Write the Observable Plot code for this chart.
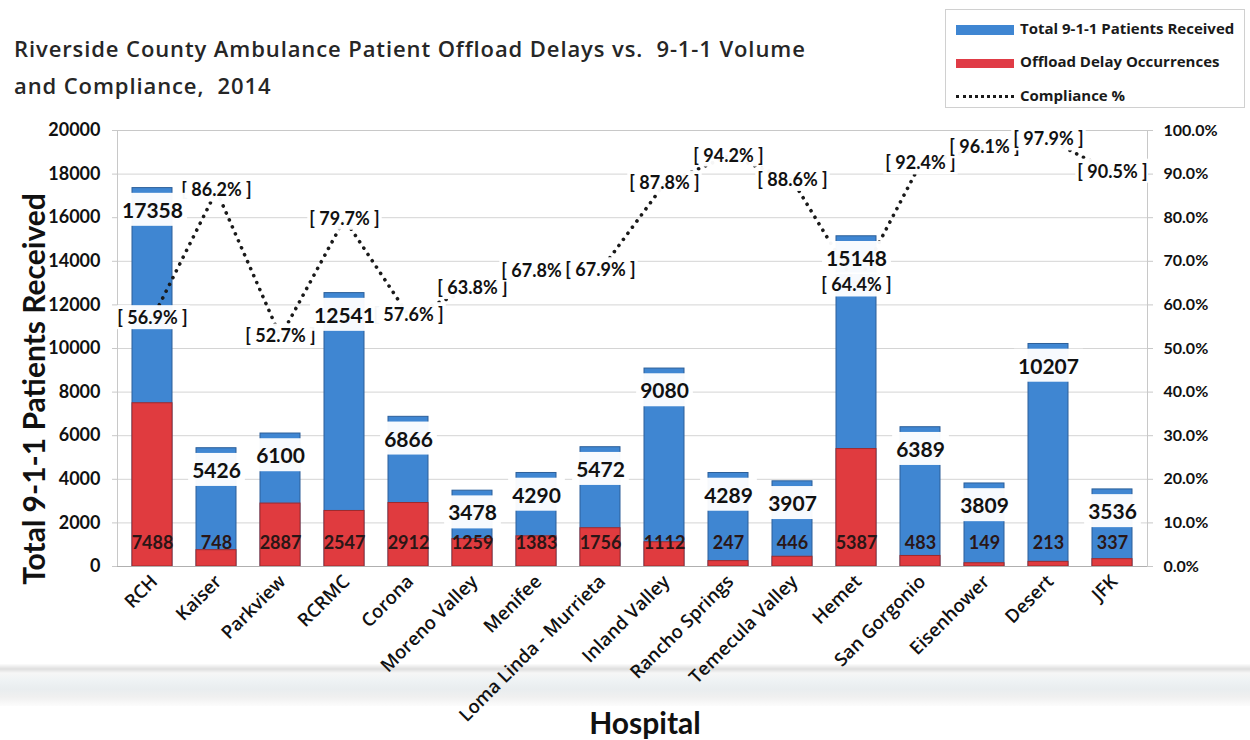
<!DOCTYPE html>
<html>
<head>
<meta charset="utf-8">
<script src="https://cdn.jsdelivr.net/npm/d3@7"></script>
<script src="https://cdn.jsdelivr.net/npm/@observablehq/plot@0.6"></script>
<style>
  html, body { margin: 0; padding: 0; background: #fff; width: 1250px; height: 740px; overflow: hidden; font-family: Lato, "Open Sans", sans-serif; }
  #band { position: absolute; left: 0; top: 664px; width: 1250px; height: 42px; z-index: 0;
    background: linear-gradient(#fcfcfc 0px, #dedede 5px, #f6f6f6 9px, #eef2f4 17px, #e9edef 25px, #f0f0f0 33px, #fcfcfc 42px); }
  #chart { position: absolute; left: 0; top: 0; z-index: 1; }
  #title { position: absolute; left: 14px; top: 30px; z-index: 2; font-family: "Open Sans", sans-serif; font-size: 22px; letter-spacing: 0.9px; font-weight: 600; color: #262626; line-height: 37px; }
  #legend { position: absolute; left: 945px; top: 9px; width: 298px; height: 97px; border: 1px solid #d0d0d0; background: #fff; z-index: 2; }
  .li { position: absolute; left: 0; font-family: "Open Sans", sans-serif; font-size: 15px; font-weight: 700; color: #1a1a1a; white-space: nowrap; }
  .sw { position: absolute; left: 10px; width: 58px; }
  .lt { position: absolute; left: 74px; }
  #ytitle { position: absolute; left: 33px; top: 389px; transform: translate(-50%, -50%) rotate(-90deg); font-size: 30px; font-weight: 700; color: #111; white-space: nowrap; z-index: 2; }
  #xtitle { position: absolute; left: 645px; top: 722px; transform: translate(-50%, -50%); font-size: 30px; font-weight: 700; color: #111; z-index: 2; }
</style>
</head>
<body>
<div id="band"></div>
<div id="chart"></div>
<div id="title">Riverside County Ambulance Patient Offload Delays vs.&nbsp; 9-1-1 Volume<br>and Compliance,&nbsp; 2014</div>
<div id="legend">
  <div class="li" style="top:8px"><div class="sw" style="top:7px;height:10px;background:#3f86d2"></div><div class="lt">Total 9-1-1 Patients Received</div></div>
  <div class="li" style="top:41px"><div class="sw" style="top:8px;height:9px;background:#e03b46"></div><div class="lt">Offload Delay Occurrences</div></div>
  <div class="li" style="top:75px"><div class="sw" style="top:10px;height:0;border-top:3px dotted #1a1a1a"></div><div class="lt">Compliance %</div></div>
</div>
<div id="ytitle">Total 9-1-1 Patients Received</div>
<div id="xtitle">Hospital</div>
<script>
const hospitals = ["RCH","Kaiser","Parkview","RCRMC","Corona","Moreno Valley","Menifee","Loma Linda - Murrieta","Inland Valley","Rancho Springs","Temecula Valley","Hemet","San Gorgonio","Eisenhower","Desert","JFK"];
const totalPatients = [17358,5426,6100,12541,6866,3478,4290,5472,9080,4289,3907,15148,6389,3809,10207,3536];
const offloadDelays = [7488,748,2887,2547,2912,1259,1383,1756,1112,247,446,5387,483,149,213,337];
const compliancePct = [56.9,86.2,52.7,79.7,57.6,63.8,67.8,67.9,87.8,94.2,88.6,64.4,92.4,96.1,97.9,90.5];
const leftTicks = [0,2000,4000,6000,8000,10000,12000,14000,16000,18000,20000];

const rows = hospitals.map((h, i) => ({hospital: h, total: totalPatients[i], delays: offloadDelays[i], compliance: compliancePct[i]}));
// compliance (0-100%) is drawn on the same y scale: 100% <-> 20000
const pctToY = p => p * 200;
const nb = "\u00a0";

const chart = Plot.plot({
  width: 1250,
  height: 740,
  marginTop: 130,
  marginBottom: 174,
  marginLeft: 117,
  marginRight: 103,
  style: {background: "transparent", fontFamily: "Lato, 'Open Sans', sans-serif", color: "#111"},
  x: {domain: hospitals, paddingInner: 0.38, paddingOuter: 0.19},
  y: {domain: [0, 20000]},
  marks: [
    Plot.gridY(leftTicks, {stroke: "#d4d4d4", strokeOpacity: 1}),
    Plot.frame({stroke: "#c8c8c8"}),
    Plot.barY(rows, {x: "hospital", y: "total", fill: "#3f86d2", stroke: "#2c5f99", strokeWidth: 1}),
    Plot.barY(rows, {x: "hospital", y: "delays", fill: "#e03b3f", stroke: "#9e2a2d", strokeWidth: 1}),
    Plot.ruleY([0], {stroke: "#b0b0b0"}),
    Plot.line(rows, {x: "hospital", y: d => pctToY(d.compliance), stroke: "#1a1a1a", strokeWidth: 3.6, strokeDasharray: "0.1 7.5", strokeLinecap: "round"}),
    Plot.text(rows, {x: "hospital", y: 0, dy: -23, text: d => String(d.delays), fontSize: 18, fontWeight: "bold", fill: "#2a1616"}),
    Plot.text(rows, {x: "hospital", y: d => pctToY(d.compliance), text: d => "[" + nb + d.compliance.toFixed(1) + "%" + nb + "]", fontSize: 18, fontWeight: "bold", fill: "#111", className: "boxed-pct"}),
    Plot.text(rows, {x: "hospital", y: "total", dy: 23, text: d => String(d.total), fontSize: 21, fontWeight: "bold", fill: "#111", className: "boxed-total"}),
    Plot.axisY({ticks: leftTicks, anchor: "left", tickFormat: d => String(d), fontSize: 18, fontWeight: "bold", tickSize: 5, tickPadding: 12, stroke: "#c8c8c8", label: null}),
    Plot.axisY({ticks: leftTicks, anchor: "right", tickFormat: d => (d / 200).toFixed(1) + "%", fontSize: 16, fontWeight: "bold", tickSize: 5, tickPadding: 11, stroke: "#c8c8c8", label: null}),
    Plot.axisX({tickRotate: -45, fontSize: 18.5, fontWeight: 600, fontFamily: "'Open Sans', sans-serif", tickSize: 0, tickPadding: 12, dx: 2, label: null})
  ]
});
document.getElementById("chart").append(chart);

// white label boxes behind text labels (sized from the rendered text)
function boxLabels(cls, px, py) {
  chart.querySelectorAll("g." + cls + " text").forEach(t => {
    const b = t.getBBox();
    const r = document.createElementNS("http://www.w3.org/2000/svg", "rect");
    r.setAttribute("x", b.x - px);
    r.setAttribute("y", b.y - py);
    r.setAttribute("width", b.width + 2 * px);
    r.setAttribute("height", b.height + 2 * py);
    r.setAttribute("fill", "white");
    r.setAttribute("fill-opacity", "0.96");
    const tr = t.getAttribute("transform");
    if (tr) r.setAttribute("transform", tr);
    t.parentNode.insertBefore(r, t);
  });
}
boxLabels("boxed-pct", 2, 1);
boxLabels("boxed-total", 4, 4);
</script>
</body>
</html>
